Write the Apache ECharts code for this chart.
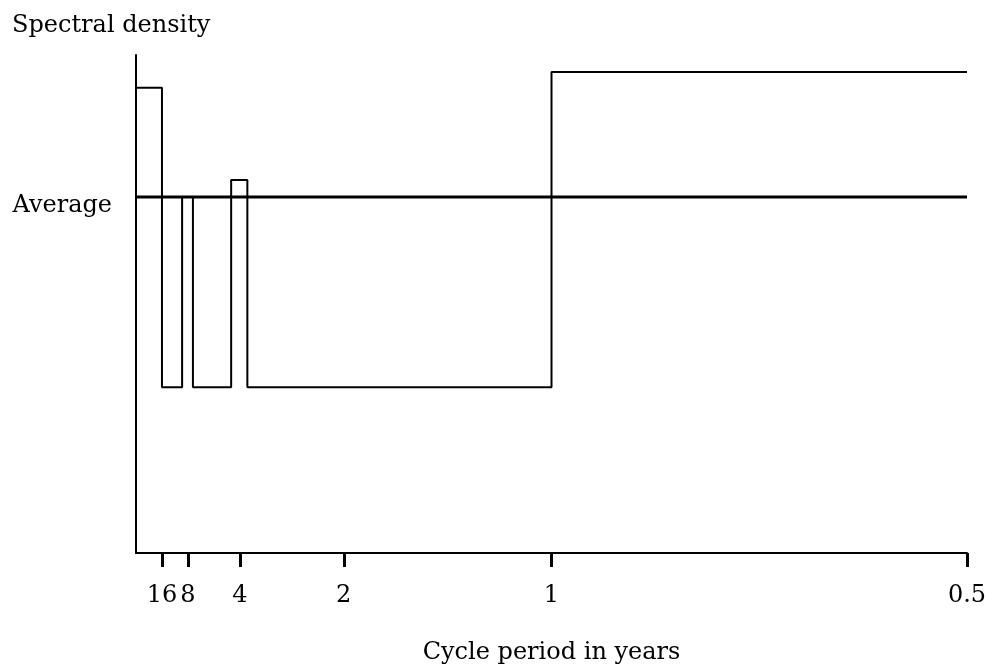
<!DOCTYPE html>
<html>
<head>
<meta charset="utf-8">
<script src="https://cdn.jsdelivr.net/npm/echarts@6/dist/echarts.min.js"></script>
<style>html,body{margin:0;padding:0;background:#fff}#c{width:985px;height:667px}</style>
</head>
<body>
<div id="c"></div>
<script>
// frequency (cycles per year) breakpoints of the step spectrum
var stepFreq  = [0, 0.0625, 0.0625, 0.111, 0.111, 0.137, 0.137, 0.229, 0.229, 0.268, 0.268, 1, 1, 2];
var stepValue = [93.4, 93.4, 33.3, 33.3, 71.5, 71.5, 33.3, 33.3, 74.9, 74.9, 33.3, 33.3, 96.6, 96.6];
var averageValue = 71.5;
var tickFreq   = [0.0625, 0.125, 0.25, 0.5, 1, 2];
var tickLabels = ['16', '8', '4', '2', '1', '0.5'];

var FONT = 'DejaVu Serif';
var FS = 24;
var stepData = stepFreq.map(function (f, i) { return [f, stepValue[i]]; });
var avgData = [[0, averageValue], [2, averageValue]];

var chart = echarts.init(document.getElementById('c'));
chart.setOption({
  animation: false,
  title: {
    text: 'Spectral density', left: 7, top: 9,
    textStyle: { fontFamily: FONT, fontSize: FS, fontWeight: 'normal', color: '#000' }
  },
  grid: { left: 136, right: 18, top: 55, bottom: 114, outerBoundsMode: 'none', containLabel: false },
  xAxis: {
    type: 'value', min: 0, max: 2,
    name: 'Cycle period in years', nameLocation: 'middle', nameGap: 88,
    nameTextStyle: { fontFamily: FONT, fontSize: FS, color: '#000' },
    axisLine: { lineStyle: { color: '#000', width: 2 } },
    axisTick: { show: true, customValues: tickFreq, length: 14, inside: false, lineStyle: { color: '#000', width: 3 } },
    axisLabel: {
      customValues: tickFreq, margin: 31,
      fontFamily: FONT, fontSize: FS, color: '#000',
      formatter: function (v) {
        for (var i = 0; i < tickFreq.length; i++) if (Math.abs(tickFreq[i] - v) < 1e-9) return tickLabels[i];
        return '';
      }
    },
    splitLine: { show: false }
  },
  yAxis: {
    type: 'value', min: 0, max: 100,
    axisLine: { show: true, lineStyle: { color: '#000', width: 2 } },
    axisTick: { show: false },
    axisLabel: {
      customValues: [averageValue], margin: 24,
      fontFamily: FONT, fontSize: FS, color: '#000',
      formatter: function () { return '{a|Average}'; },
      rich: { a: { fontFamily: FONT, fontSize: FS, color: '#000', padding: [18, 0, 0, 0] } }
    },
    splitLine: { show: false }
  },
  series: [
    {
      type: 'line', data: avgData, symbol: 'none', silent: true,
      lineStyle: { color: '#000', width: 3 }
    },
    {
      type: 'line', data: stepData, symbol: 'none', silent: true,
      lineStyle: { color: '#000', width: 2 }
    }
  ]
});
</script>
</body>
</html>
